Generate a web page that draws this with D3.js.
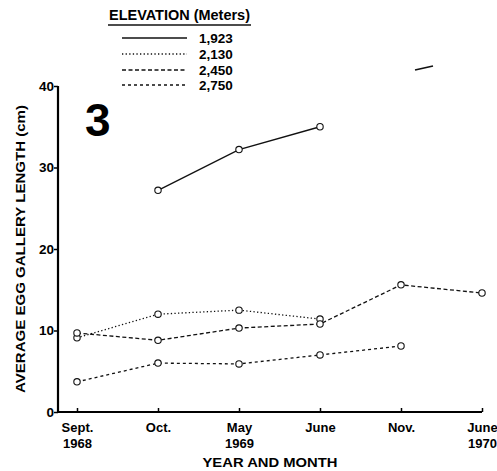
<!DOCTYPE html>
<html><head><meta charset="utf-8">
<script src="https://cdn.jsdelivr.net/npm/d3@7"></script>
<style>body{margin:0;background:#fff}svg{display:block}</style>
</head><body>
<script>
const months = ["Sept.|1968","Oct.","May|1969","June","Nov.","June|1970"];
const elevations = ["1,923","2,130","2,450","2,750"];
const s1923 = [null, 27.2, 32.2, 35.0, null, null];
const s2130 = [9.1, 12.0, 12.5, 11.4, null, null];
const s2450 = [9.7, 8.8, 10.3, 10.8, 15.6, 14.6];
const s2750 = [3.7, 6.0, 5.9, 7.0, 8.1, null];
const yTicks = [0,10,20,30,40];

const series = [
  {name: elevations[0], vals: s1923, dash: null},
  {name: elevations[1], vals: s2130, dash: "1.3,2.3"},
  {name: elevations[2], vals: s2450, dash: "4,2.5"},
  {name: elevations[3], vals: s2750, dash: "3,3"}
];

const W=497,H=471;
const svg=d3.select("body").append("svg").attr("width",W).attr("height",H);
const font="'Liberation Sans Narrow','Arial Narrow','Liberation Sans',sans-serif";
const x=d3.scalePoint().domain(months).range([77,482]);
const y=d3.scaleLinear().domain([0,40]).range([412,86]);

// axes
const ya=svg.append("g").attr("transform","translate(58,0)")
  .call(d3.axisLeft(y).tickValues(yTicks).tickSize(4).tickFormat(d3.format("d")));
ya.select(".domain").attr("stroke-width",2.2).attr("d","M0,86V413");
ya.selectAll(".tick line").attr("stroke-width",1.5);
ya.selectAll(".tick text").attr("font-family",font).attr("font-weight","bold").attr("font-size",13.5).attr("x",-4);

const xa=svg.append("g").attr("transform","translate(0,412)")
  .call(d3.axisBottom(x).tickSize(-4).tickFormat(""));
xa.select(".domain").attr("stroke-width",2.2).attr("d","M57,0H482");
xa.selectAll(".tick line").attr("stroke-width",1.5);
xa.selectAll(".tick").each(function(d){
  const parts=d.split("|");
  const t=d3.select(this).append("text").attr("fill","#000").attr("font-family",font)
    .attr("font-weight","bold").attr("font-size",13).attr("text-anchor","middle");
  parts.forEach((p,i)=>t.append("tspan").attr("x",0).attr("y",20+i*16).text(p));
});

// lines
const line=d3.line().defined(d=>d.v!=null).x(d=>x(d.m)).y(d=>y(d.v));
series.forEach(s=>{
  const pts=s.vals.map((v,i)=>({m:months[i],v}));
  svg.append("path").datum(pts).attr("d",line).attr("fill","none")
    .attr("stroke","#111").attr("stroke-width",1.3).attr("stroke-dasharray",s.dash);
  svg.selectAll(null).data(pts.filter(p=>p.v!=null)).enter().append("circle")
    .attr("cx",p=>x(p.m)).attr("cy",p=>y(p.v)).attr("r",3.2)
    .attr("fill","#fff").attr("stroke","#111").attr("stroke-width",1.1);
});

// big 3
svg.append("text").attr("x",85).attr("y",136).attr("font-family","'Liberation Sans',Arial,sans-serif")
  .attr("font-weight","bold").attr("font-size",46).text("3");

// stray scan mark
svg.append("line").attr("x1",415).attr("y1",70).attr("x2",433).attr("y2",66).attr("stroke","#111").attr("stroke-width",1.6);

// legend
svg.append("text").attr("x",109).attr("y",20).attr("font-family",font).attr("font-weight","bold")
  .attr("font-size",14).attr("textLength",141).attr("lengthAdjust","spacingAndGlyphs").text("ELEVATION (Meters)");
svg.append("line").attr("x1",108).attr("x2",251).attr("y1",25).attr("y2",25).attr("stroke","#111").attr("stroke-width",1.5);
const ly=[38,54,70,85];
series.forEach((s,i)=>{
  svg.append("line").attr("x1",122).attr("x2",187).attr("y1",ly[i]).attr("y2",ly[i])
    .attr("stroke","#111").attr("stroke-width",1.3).attr("stroke-dasharray",s.dash);
  svg.append("text").attr("x",199).attr("y",ly[i]+5).attr("font-family",font).attr("font-weight","bold")
    .attr("font-size",13.5).text(s.name);
});

// axis titles
svg.append("text").attr("transform","translate(20,249) rotate(-90)").attr("text-anchor","middle")
  .attr("font-family","'Liberation Sans',Arial,sans-serif").attr("font-weight","bold").attr("font-size",13)
  .attr("dy","0.35em").attr("textLength",288).attr("lengthAdjust","spacingAndGlyphs")
  .text("AVERAGE EGG GALLERY LENGTH (cm)");
svg.append("text").attr("x",270).attr("y",467).attr("text-anchor","middle")
  .attr("font-family","'Liberation Sans',Arial,sans-serif").attr("font-weight","bold").attr("font-size",12.5)
  .attr("textLength",135).attr("lengthAdjust","spacingAndGlyphs")
  .text("YEAR AND MONTH");
</script>
</body></html>
